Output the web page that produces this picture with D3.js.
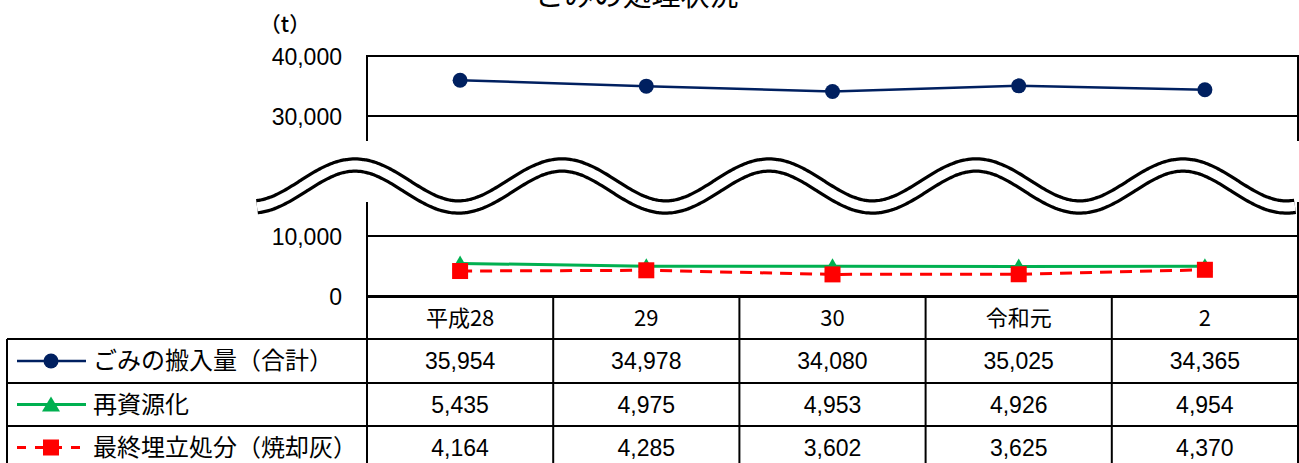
<!DOCTYPE html>
<html><head><meta charset="utf-8">
<script src="https://cdn.jsdelivr.net/npm/d3@7"></script>
<style>body{margin:0;background:#fff} svg{display:block}</style>
</head><body><svg id="c" width="1299" height="463"></svg>
<script>
// ---- data ----
const categories = ["平成28", "29", "30", "令和元", "2"];
const seriesNames = ["ごみの搬入量（合計）", "再資源化", "最終埋立処分（焼却灰）"];
const totalWaste = [35954, 34978, 34080, 35025, 34365];
const recycled = [5435, 4975, 4953, 4926, 4954];
const landfill = [4164, 4285, 3602, 3625, 4370];
const yTickValues = [0, 10000, 30000, 40000];
const titleText = "ごみの処理状況";
const unitText = "（t）";

// ---- layout ----
const W = 1299, H = 463;
const plotL = 367, plotR = 1298, plotT = 56, plotB = 296;
const breakTop = 141, breakBot = 202;
const tableRows = [297, 339, 383, 426, 469];
const legendL = 7;
const jp = "'Noto Sans CJK JP', 'Noto Sans', sans-serif";
const num = "'Liberation Sans', Arial, sans-serif";

const svg = d3.select("#c");
const x = d3.scaleBand().domain(categories).range([plotL, plotR]);
const cx = d => x(d) + x.bandwidth() / 2;
const y = d3.scaleLinear().domain([0, 40000]).range([plotB, plotT]);

// title & unit
svg.append("text").attr("x", 637).attr("y", 6).attr("text-anchor", "middle")
  .attr("font-family", jp).attr("font-size", 29).attr("fill", "#000").text(titleText);
svg.append("text").attr("x", 285).attr("y", 25).attr("dy", "0.35em").attr("text-anchor", "middle")
  .attr("font-family", jp).attr("font-size", 21).attr("font-weight", 500).attr("fill", "#000").text(unitText);

// gridlines
svg.append("g").selectAll("line").data(yTickValues.filter(v => v > 0 && v < 40000)).join("line")
  .attr("x1", plotL).attr("x2", plotR).attr("y1", d => y(d)).attr("y2", d => y(d))
  .attr("stroke", "#000").attr("stroke-width", 2);

// plot border
svg.append("rect").attr("x", plotL).attr("y", plotT).attr("width", plotR - plotL).attr("height", plotB - plotT)
  .attr("fill", "none").attr("stroke", "#000").attr("stroke-width", 2);

// y tick labels
svg.append("g").selectAll("text").data(yTickValues).join("text")
  .attr("x", 342).attr("y", d => y(d) + 1).attr("dy", "0.35em").attr("text-anchor", "end")
  .attr("font-family", num).attr("font-size", 23).attr("fill", "#000")
  .text(d => d3.format(",")(d));

// axis break
svg.append("rect").attr("x", plotL - 6).attr("y", breakTop).attr("width", W - plotL + 6).attr("height", breakBot - breakTop)
  .attr("fill", "#fff");
const wavePts = d3.range(257, 1296, 2).map(px => [px, 186 - 21 * Math.cos(2 * Math.PI * (px - 355) / 207)]);
const waveLine = d3.line().curve(d3.curveBasis);
svg.append("path").attr("d", waveLine(wavePts)).attr("fill", "none").attr("stroke", "#000").attr("stroke-width", 15.5);
svg.append("path").attr("d", waveLine(wavePts)).attr("fill", "none").attr("stroke", "#fff").attr("stroke-width", 9);

// series
const navy = "#002060", green = "#00B050", red = "#FF0000";
const line = d3.line().x((d, i) => cx(categories[i])).y(d => y(d));
const triPath = "M0,-8L8,6L-8,6Z";

svg.append("path").attr("d", line(recycled)).attr("fill", "none").attr("stroke", green).attr("stroke-width", 3);
svg.append("g").selectAll("path").data(recycled).join("path")
  .attr("d", triPath).attr("fill", green)
  .attr("transform", (d, i) => `translate(${cx(categories[i])},${y(d)})`);

svg.append("path").attr("d", line(landfill)).attr("fill", "none").attr("stroke", red).attr("stroke-width", 3)
  .attr("stroke-dasharray", "12,8");
svg.append("g").selectAll("rect").data(landfill).join("rect")
  .attr("x", (d, i) => cx(categories[i]) - 8).attr("y", d => y(d) - 8).attr("width", 16).attr("height", 16)
  .attr("fill", red);

svg.append("path").attr("d", line(totalWaste)).attr("fill", "none").attr("stroke", navy).attr("stroke-width", 2.5);
svg.append("g").selectAll("circle").data(totalWaste).join("circle")
  .attr("cx", (d, i) => cx(categories[i])).attr("cy", d => y(d)).attr("r", 7.5).attr("fill", navy);

// ---- data table ----
const tg = svg.append("g");
function hline(x1, x2, yy) { tg.append("line").attr("x1", x1).attr("x2", x2).attr("y1", yy).attr("y2", yy).attr("stroke", "#000").attr("stroke-width", 2); }
function vline(xx, y1, y2) { tg.append("line").attr("x1", xx).attr("x2", xx).attr("y1", y1).attr("y2", y2).attr("stroke", "#000").attr("stroke-width", 2); }
hline(plotL, plotR, tableRows[0]);
for (let r = 1; r < tableRows.length; r++) hline(legendL, plotR, tableRows[r]);
vline(legendL, tableRows[1], tableRows[4]);
categories.forEach(c => vline(x(c), tableRows[0], tableRows[4]));
vline(plotR, tableRows[0], tableRows[4]);

// header labels
tg.selectAll("text.h").data(categories).join("text").attr("class", "h")
  .attr("x", d => cx(d)).attr("y", (tableRows[0] + tableRows[1]) / 2).attr("dy", "0.35em")
  .attr("text-anchor", "middle").attr("font-family", jp).attr("font-size", 22).attr("fill", "#000").text(d => d);

const seriesData = [totalWaste, recycled, landfill];
seriesData.forEach((vals, r) => {
  const yc = (tableRows[r + 1] + tableRows[r + 2]) / 2;
  tg.append("g").selectAll("text").data(vals).join("text")
    .attr("x", (d, i) => cx(categories[i])).attr("y", yc).attr("dy", "0.35em")
    .attr("text-anchor", "middle").attr("font-family", num).attr("font-size", 23).attr("fill", "#000")
    .text(d => d3.format(",")(d));
  tg.append("text").attr("x", 93).attr("y", yc).attr("dy", "0.35em")
    .attr("font-family", jp).attr("font-size", 24).attr("fill", "#000").text(seriesNames[r]);
});

// legend keys
const lg = svg.append("g");
const k1 = (tableRows[1] + tableRows[2]) / 2, k2 = (tableRows[2] + tableRows[3]) / 2, k3 = (tableRows[3] + tableRows[4]) / 2;
lg.append("line").attr("x1", 17).attr("x2", 86).attr("y1", k1).attr("y2", k1).attr("stroke", navy).attr("stroke-width", 2.5);
lg.append("circle").attr("cx", 51).attr("cy", k1).attr("r", 7.5).attr("fill", navy);
lg.append("line").attr("x1", 17).attr("x2", 86).attr("y1", k2).attr("y2", k2).attr("stroke", green).attr("stroke-width", 3);
lg.append("path").attr("d", "M0,-8L9,7L-9,7Z").attr("fill", green).attr("transform", `translate(51,${k2})`);
lg.append("line").attr("x1", 17).attr("x2", 86).attr("y1", k3).attr("y2", k3).attr("stroke", red).attr("stroke-width", 3)
  .attr("stroke-dasharray", "9,9");
lg.append("rect").attr("x", 43).attr("y", k3 - 8).attr("width", 16).attr("height", 16).attr("fill", red);
</script></body></html>
